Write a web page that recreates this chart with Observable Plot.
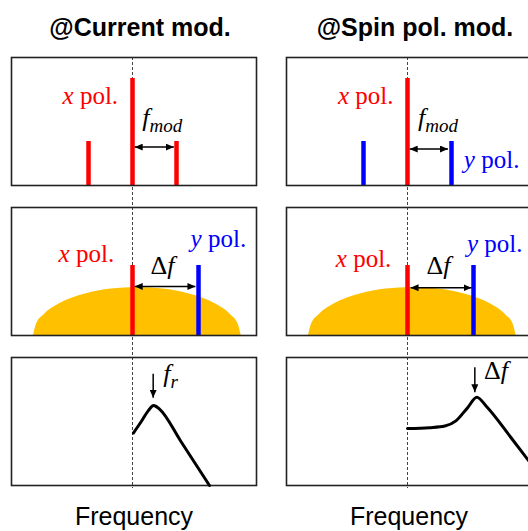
<!DOCTYPE html>
<html><head><meta charset="utf-8">
<script src="https://cdn.jsdelivr.net/npm/d3@7"></script>
<script src="https://cdn.jsdelivr.net/npm/@observablehq/plot@0.6"></script>
<style>
html,body{margin:0;padding:0;overflow:hidden;background:#fff;width:528px;height:531px}
#chart{position:relative;width:540px;height:531px}
</style></head><body><div id="chart"></div>
<script>
// ---- data ----
const columns = ["@Current mod.", "@Spin pol. mod."];
const rows = ["modulation", "gain", "response"];
const axisLabel = "Frequency";

// Row 1: modulation sidebands (frequency offset in units of f_mod, relative height)
const sidebandFreq = [-1, 0, 1];
const sidebandHeight = [0.344, 0.836, 0.344];
const sidebandPolCurrent = ["x", "x", "x"];
const sidebandPolSpin = ["y", "x", "y"];

// Row 2: lasing modes and gain profile
const modeFreq = [0, 1.5];
const modeHeight = [0.547, 0.547];
const modePol = ["x", "y"];
const gainFreq = [-2.25, -2.18, -2.01, -1.66, -1.07, -0.48, 0.11, 0.70, 1.29, 1.88, 2.23, 2.40, 2.47];
const gainLevel = [0, 0.09, 0.163, 0.248, 0.325, 0.363, 0.375, 0.363, 0.325, 0.248, 0.163, 0.09, 0];

// Row 3: modulation response
const respFreqCurrent = [0.02, 0.2, 0.36, 0.48, 0.62, 1.09, 1.75];
const respLevelCurrent = [0.41, 0.5, 0.585, 0.625, 0.595, 0.35, 0];
const respFreqSpin = [0, 0.5, 0.85, 1.1, 1.37, 1.575, 1.8, 2.35, 2.85];
const respLevelSpin = [0.445, 0.452, 0.465, 0.505, 0.61, 0.69, 0.615, 0.375, 0.15];

// Polarization labels
const polLabelText = ["*x* pol.", "*x* pol.", "*y* pol.", "*x* pol.", "*y* pol.", "*x* pol.", "*y* pol."];
const polLabelCol = [0, 0, 0, 1, 1, 1, 1];
const polLabelRow = [0, 1, 1, 0, 0, 1, 1];
const polLabelFreq = [-1.59, -1.68, 1.32, -1.58, 1.28, -1.63, 1.35];
const polLabelLevel = [0.633, 0.573, 0.69, 0.64, 0.133, 0.534, 0.651];
const polLabelPol = ["x", "x", "y", "x", "y", "x", "y"];

// Math labels
const mathText = ["*f*_mod_", "Δ*f*", "*f*_r_", "*f*_mod_", "Δ*f*", "Δ*f*"];
const mathCol = [0, 0, 0, 1, 1, 1];
const mathRow = [0, 1, 2, 0, 1, 2];
const mathFreq = [0.22, 0.41, 0.70, 0.24, 0.43, 1.74];
const mathLevel = [0.463, 0.484, 0.81, 0.463, 0.484, 0.83];

// Double-headed spacing arrows
const spanCol = [0, 0, 1, 1];
const spanRow = [0, 1, 0, 1];
const spanFrom = [0.05, 0.05, 0.05, 0.07];
const spanTo = [0.94, 1.43, 0.92, 1.455];
const spanLevel = [0.30, 0.383, 0.285, 0.373];

// Peak (resonance) arrows
const peakCol = [0, 1];
const peakFreq = [0.47, 1.53];
const peakTop = [0.873, 0.924];
const peakTip = [0.685, 0.729];

// ---- tables ----
const [cur, spin] = columns;
const sidebands = [
  ...sidebandFreq.map((f, i) => ({col: cur, row: rows[0], f, h: sidebandHeight[i], pol: sidebandPolCurrent[i]})),
  ...sidebandFreq.map((f, i) => ({col: spin, row: rows[0], f, h: sidebandHeight[i], pol: sidebandPolSpin[i]}))
];
const modes = columns.flatMap(col => modeFreq.map((f, i) => ({col, row: rows[1], f, h: modeHeight[i], pol: modePol[i]})));
const gain = columns.flatMap(col => gainFreq.map((f, i) => ({col, row: rows[1], f, g: gainLevel[i]})));
const response = [
  ...respFreqCurrent.map((f, i) => ({col: cur, row: rows[2], f, r: respLevelCurrent[i]})),
  ...respFreqSpin.map((f, i) => ({col: spin, row: rows[2], f, r: respLevelSpin[i]}))
];
const refUpper = columns.flatMap(col => rows.slice(0, 2).map(row => ({col, row, f: 0})));
const refLower = columns.map(col => ({col, row: rows[2], f: 0}));
const polLabels = polLabelText.map((t, i) => ({t, col: columns[polLabelCol[i]], row: rows[polLabelRow[i]], f: polLabelFreq[i], y: polLabelLevel[i], pol: polLabelPol[i]}));
const mathLabels = mathText.map((t, i) => ({t, col: columns[mathCol[i]], row: rows[mathRow[i]], f: mathFreq[i], y: mathLevel[i]}));
const spans = spanCol.map((c, i) => ({col: columns[c], row: rows[spanRow[i]], x1: spanFrom[i], x2: spanTo[i], y: spanLevel[i]}));
const peaks = peakCol.map((c, i) => ({col: columns[c], row: rows[2], x: peakFreq[i], y1: peakTop[i], y2: peakTip[i]}));
const titles = columns.map(col => ({col, row: rows[0], t: col}));
const xLabels = columns.map(col => ({col, row: rows[2], t: axisLabel}));

const serif = "'Liberation Serif', 'Times New Roman', serif";
const sans = "'Liberation Sans', Arial, sans-serif";

const plot = Plot.plot({
  width: 540, height: 531,
  marginLeft: 11, marginRight: 9, marginTop: 57, marginBottom: 46,
  x: {domain: [-2.75, 2.818], axis: null},
  y: {domain: [0, 1], axis: null},
  fx: {domain: columns, paddingInner: 30 / 275, paddingOuter: 0, axis: null, round: false},
  fy: {domain: rows, paddingInner: 22 / 150, paddingOuter: 0, axis: null, round: false},
  color: {domain: ["x", "y"], range: ["#ff0000", "#0000ff"]},
  style: {background: "white"},
  marks: [
    Plot.areaY(gain, {x: "f", y: "g", fx: "col", fy: "row", fill: "#FFC000", curve: "monotone-x"}),
    Plot.ruleX(refUpper, {x: "f", fx: "col", fy: "row", stroke: "#444", strokeWidth: 1, strokeDasharray: "3,2", insetBottom: -22}),
    Plot.ruleX(refLower, {x: "f", fx: "col", fy: "row", stroke: "#444", strokeWidth: 1, strokeDasharray: "3,2", insetBottom: -3}),
    Plot.ruleX(sidebands, {x: "f", y1: 0, y2: "h", fx: "col", fy: "row", stroke: "pol", strokeWidth: 4.5}),
    Plot.ruleX(modes, {x: "f", y1: 0, y2: "h", fx: "col", fy: "row", stroke: "pol", strokeWidth: 4.5}),
    Plot.frame({stroke: "#222", strokeWidth: 1.6}),
    Plot.line(response, {x: "f", y: "r", fx: "col", fy: "row", stroke: "black", strokeWidth: 3, curve: "monotone-x", strokeLinejoin: "round"}),
    Plot.link(spans, {x1: "x1", x2: "x2", y1: "y", y2: "y", fx: "col", fy: "row", stroke: "black", strokeWidth: 1.5, markerStart: "arrow", markerEnd: "arrow"}),
    Plot.link(peaks, {x1: "x", x2: "x", y1: "y1", y2: "y2", fx: "col", fy: "row", stroke: "black", strokeWidth: 1.5, markerEnd: "arrow"}),
    Plot.text(polLabels, {x: "f", y: "y", text: "t", fx: "col", fy: "row", fill: "pol", textAnchor: "start", lineAnchor: "bottom", fontSize: 25, fontFamily: serif}),
    Plot.text(mathLabels, {x: "f", y: "y", text: "t", fx: "col", fy: "row", fill: "black", textAnchor: "start", lineAnchor: "bottom", fontSize: 26, fontFamily: serif}),
    Plot.text(titles, {text: "t", fx: "col", fy: "row", frameAnchor: "top", lineAnchor: "bottom", dy: -22, dx: 6, fontSize: 25, fontWeight: "bold", fontFamily: sans, fill: "black"}),
    Plot.text(xLabels, {text: "t", fx: "col", fy: "row", frameAnchor: "bottom", lineAnchor: "bottom", dy: 39, fontSize: 25, fontFamily: sans, fill: "black"})
  ]
});
document.getElementById("chart").appendChild(plot);

// ---- post-processing: rich text and filled arrowheads ----
const svg = plot.tagName.toLowerCase() === "svg" ? plot : plot.querySelector("svg");
const S = d3.select(svg);
const defs = S.insert("defs", ":first-child");
defs.append("marker")
  .attr("id", "ahead").attr("viewBox", "0 0 8 7").attr("refX", 8).attr("refY", 3.5)
  .attr("markerWidth", 8).attr("markerHeight", 7).attr("markerUnits", "userSpaceOnUse")
  .attr("orient", "auto-start-reverse")
  .append("path").attr("d", "M0,0L8,3.5L0,7z").attr("fill", "black");
S.selectAll("[marker-start]").attr("marker-start", "url(#ahead)");
S.selectAll("[marker-end]").attr("marker-end", "url(#ahead)");

function parseMarkup(s) {
  const segs = []; let it = false, sub = false, buf = "";
  const flush = () => { if (buf) segs.push({t: buf, it, sub}); buf = ""; };
  for (const c of s) {
    if (c === "*") { flush(); it = !it; }
    else if (c === "_") { flush(); sub = !sub; }
    else buf += c;
  }
  flush();
  return segs;
}
S.selectAll("text").each(function() {
  const s = this.textContent;
  if (!/[*_]/.test(s)) return;
  const segs = parseMarkup(s);
  const el = d3.select(this);
  el.text(null);
  let shifted = false;
  for (const seg of segs) {
    const ts = el.append("tspan").text(seg.t).style("white-space", "pre");
    if (seg.it || seg.sub) ts.attr("font-style", "italic");
    if (seg.sub) { ts.attr("font-size", 19); if (!shifted) { ts.attr("dy", 6); shifted = true; } }
    else if (shifted) { ts.attr("dy", -6); shifted = false; }
  }
});
</script>
</body></html>
